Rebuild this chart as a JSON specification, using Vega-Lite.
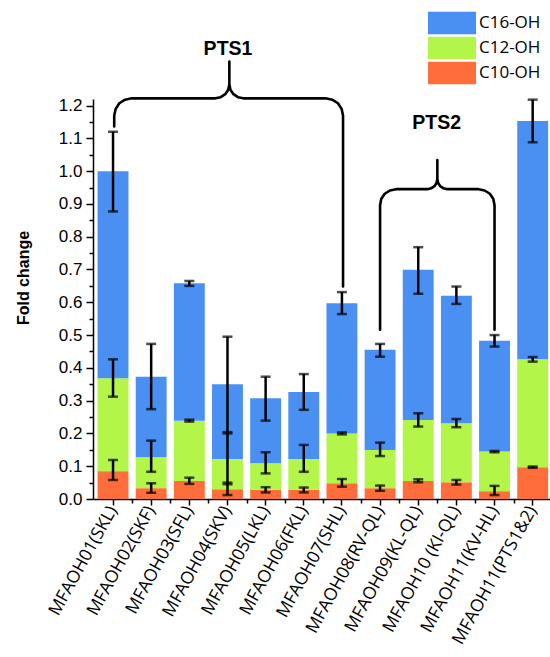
{
  "$schema": "https://vega.github.io/schema/vega-lite/v6.json",
  "autosize": "none",
  "width": 457,
  "height": 400,
  "padding": {"left": 93, "top": 99, "right": 0, "bottom": 158},
  "background": "white",
  "config": {"view": {"stroke": null}},
  "datasets": {
    "bars": [
      {"sample": "MFAOH01(SKL)", "compound": "C10-OH", "value": 0.085, "lo": 0.058, "hi": 0.119},
      {"sample": "MFAOH01(SKL)", "compound": "C12-OH", "value": 0.283, "lo": 0.312, "hi": 0.426},
      {"sample": "MFAOH01(SKL)", "compound": "C16-OH", "value": 0.632, "lo": 0.877, "hi": 1.12},
      {"sample": "MFAOH02(SKF)", "compound": "C10-OH", "value": 0.033, "lo": 0.019, "hi": 0.048},
      {"sample": "MFAOH02(SKF)", "compound": "C12-OH", "value": 0.094, "lo": 0.083, "hi": 0.178},
      {"sample": "MFAOH02(SKF)", "compound": "C16-OH", "value": 0.246, "lo": 0.274, "hi": 0.473},
      {"sample": "MFAOH03(SFL)", "compound": "C10-OH", "value": 0.055, "lo": 0.046, "hi": 0.065},
      {"sample": "MFAOH03(SFL)", "compound": "C12-OH", "value": 0.184, "lo": 0.236, "hi": 0.242},
      {"sample": "MFAOH03(SFL)", "compound": "C16-OH", "value": 0.419, "lo": 0.650, "hi": 0.665},
      {"sample": "MFAOH04(SKV)", "compound": "C10-OH", "value": 0.030, "lo": 0.012, "hi": 0.050},
      {"sample": "MFAOH04(SKV)", "compound": "C12-OH", "value": 0.092, "lo": 0.045, "hi": 0.200},
      {"sample": "MFAOH04(SKV)", "compound": "C16-OH", "value": 0.228, "lo": 0.204, "hi": 0.495},
      {"sample": "MFAOH05(LKL)", "compound": "C10-OH", "value": 0.028, "lo": 0.020, "hi": 0.036},
      {"sample": "MFAOH05(LKL)", "compound": "C12-OH", "value": 0.081, "lo": 0.078, "hi": 0.1425},
      {"sample": "MFAOH05(LKL)", "compound": "C16-OH", "value": 0.198, "lo": 0.239, "hi": 0.373},
      {"sample": "MFAOH06(FKL)", "compound": "C10-OH", "value": 0.028, "lo": 0.020, "hi": 0.035},
      {"sample": "MFAOH06(FKL)", "compound": "C12-OH", "value": 0.094, "lo": 0.083, "hi": 0.165},
      {"sample": "MFAOH06(FKL)", "compound": "C16-OH", "value": 0.204, "lo": 0.272, "hi": 0.381},
      {"sample": "MFAOH07(SHL)", "compound": "C10-OH", "value": 0.048, "lo": 0.0375, "hi": 0.061},
      {"sample": "MFAOH07(SHL)", "compound": "C12-OH", "value": 0.152, "lo": 0.197, "hi": 0.203},
      {"sample": "MFAOH07(SHL)", "compound": "C16-OH", "value": 0.397, "lo": 0.564, "hi": 0.631},
      {"sample": "MFAOH08(RV-QL)", "compound": "C10-OH", "value": 0.033, "lo": 0.025, "hi": 0.041},
      {"sample": "MFAOH08(RV-QL)", "compound": "C12-OH", "value": 0.1165, "lo": 0.131, "hi": 0.172},
      {"sample": "MFAOH08(RV-QL)", "compound": "C16-OH", "value": 0.3055, "lo": 0.434, "hi": 0.473},
      {"sample": "MFAOH09(KL-QL)", "compound": "C10-OH", "value": 0.055, "lo": 0.051, "hi": 0.060},
      {"sample": "MFAOH09(KL-QL)", "compound": "C12-OH", "value": 0.186, "lo": 0.221, "hi": 0.2615},
      {"sample": "MFAOH09(KL-QL)", "compound": "C16-OH", "value": 0.458, "lo": 0.626, "hi": 0.768},
      {"sample": "MFAOH10 (KI-QL)", "compound": "C10-OH", "value": 0.051, "lo": 0.044, "hi": 0.058},
      {"sample": "MFAOH10 (KI-QL)", "compound": "C12-OH", "value": 0.180, "lo": 0.219, "hi": 0.244},
      {"sample": "MFAOH10 (KI-QL)", "compound": "C16-OH", "value": 0.389, "lo": 0.595, "hi": 0.648},
      {"sample": "MFAOH11(KV-HL)", "compound": "C10-OH", "value": 0.024, "lo": 0.012, "hi": 0.040},
      {"sample": "MFAOH11(KV-HL)", "compound": "C12-OH", "value": 0.1205, "lo": 0.1425, "hi": 0.1465},
      {"sample": "MFAOH11(KV-HL)", "compound": "C16-OH", "value": 0.3385, "lo": 0.465, "hi": 0.500},
      {"sample": "MFAOH11(PTS1&2)", "compound": "C10-OH", "value": 0.097, "lo": 0.095, "hi": 0.099},
      {"sample": "MFAOH11(PTS1&2)", "compound": "C12-OH", "value": 0.329, "lo": 0.419, "hi": 0.433},
      {"sample": "MFAOH11(PTS1&2)", "compound": "C16-OH", "value": 0.727, "lo": 1.088, "hi": 1.218}
    ],
    "braces": [
      {"brace": "PTS1", "k": 1, "i": 1.031, "y": 1.136},
      {"brace": "PTS1", "k": 2, "i": 1.031, "y": 1.169},
      {"brace": "PTS1", "k": 3, "i": 1.066, "y": 1.189},
      {"brace": "PTS1", "k": 4, "i": 1.165, "y": 1.207},
      {"brace": "PTS1", "k": 5, "i": 1.315, "y": 1.218},
      {"brace": "PTS1", "k": 6, "i": 1.490, "y": 1.222},
      {"brace": "PTS1", "k": 7, "i": 3.682, "y": 1.222},
      {"brace": "PTS1", "k": 8, "i": 3.823, "y": 1.2255},
      {"brace": "PTS1", "k": 9, "i": 3.941, "y": 1.2347},
      {"brace": "PTS1", "k": 10, "i": 4.020, "y": 1.2484},
      {"brace": "PTS1", "k": 11, "i": 4.049, "y": 1.2649},
      {"brace": "PTS1", "k": 12, "i": 4.049, "y": 1.3345},
      {"brace": "PTS1", "k": 13, "i": 4.049, "y": 1.2649},
      {"brace": "PTS1", "k": 14, "i": 4.077, "y": 1.2484},
      {"brace": "PTS1", "k": 15, "i": 4.156, "y": 1.2347},
      {"brace": "PTS1", "k": 16, "i": 4.274, "y": 1.2255},
      {"brace": "PTS1", "k": 17, "i": 4.415, "y": 1.222},
      {"brace": "PTS1", "k": 18, "i": 6.570, "y": 1.222},
      {"brace": "PTS1", "k": 19, "i": 6.746, "y": 1.218},
      {"brace": "PTS1", "k": 20, "i": 6.895, "y": 1.207},
      {"brace": "PTS1", "k": 21, "i": 6.995, "y": 1.189},
      {"brace": "PTS1", "k": 22, "i": 7.029, "y": 1.169},
      {"brace": "PTS1", "k": 23, "i": 7.029, "y": 0.648},
      {"brace": "PTS2", "k": 1, "i": 8.0, "y": 0.516},
      {"brace": "PTS2", "k": 2, "i": 8.0, "y": 0.896},
      {"brace": "PTS2", "k": 3, "i": 8.030, "y": 0.915},
      {"brace": "PTS2", "k": 4, "i": 8.122, "y": 0.931},
      {"brace": "PTS2", "k": 5, "i": 8.258, "y": 0.941},
      {"brace": "PTS2", "k": 6, "i": 8.418, "y": 0.945},
      {"brace": "PTS2", "k": 7, "i": 9.239, "y": 0.945},
      {"brace": "PTS2", "k": 8, "i": 9.338, "y": 0.9475},
      {"brace": "PTS2", "k": 9, "i": 9.425, "y": 0.954},
      {"brace": "PTS2", "k": 10, "i": 9.480, "y": 0.964},
      {"brace": "PTS2", "k": 11, "i": 9.501, "y": 0.976},
      {"brace": "PTS2", "k": 12, "i": 9.501, "y": 1.034},
      {"brace": "PTS2", "k": 13, "i": 9.501, "y": 0.976},
      {"brace": "PTS2", "k": 14, "i": 9.522, "y": 0.964},
      {"brace": "PTS2", "k": 15, "i": 9.577, "y": 0.954},
      {"brace": "PTS2", "k": 16, "i": 9.663, "y": 0.9475},
      {"brace": "PTS2", "k": 17, "i": 9.763, "y": 0.945},
      {"brace": "PTS2", "k": 18, "i": 10.581, "y": 0.945},
      {"brace": "PTS2", "k": 19, "i": 10.741, "y": 0.941},
      {"brace": "PTS2", "k": 20, "i": 10.877, "y": 0.931},
      {"brace": "PTS2", "k": 21, "i": 10.969, "y": 0.915},
      {"brace": "PTS2", "k": 22, "i": 11.0, "y": 0.896},
      {"brace": "PTS2", "k": 23, "i": 11.0, "y": 0.516}
    ],
    "labels": [
      {"label": "PTS1", "i": 4.014, "y": 1.355},
      {"label": "PTS2", "i": 9.485, "y": 1.128}
    ]
  },
  "layer": [
    {
      "layer": [
        {
          "data": {"name": "bars"},
          "mark": {"type": "bar", "strokeWidth": 0},
          "encoding": {
            "x": {
              "field": "sample", "type": "nominal",
              "scale": {
                "domain": ["MFAOH01(SKL)", "MFAOH02(SKF)", "MFAOH03(SFL)", "MFAOH04(SKV)", "MFAOH05(LKL)", "MFAOH06(FKL)", "MFAOH07(SHL)", "MFAOH08(RV-QL)", "MFAOH09(KL-QL)", "MFAOH10 (KI-QL)", "MFAOH11(KV-HL)", "MFAOH11(PTS1&2)"],
                "paddingInner": 0.19, "paddingOuter": 0.0845, "align": 0.71
              },
              "axis": {
                "title": null, "labelAngle": -61, "labelFont": "Open Sans", "labelFontSize": 17.5,
                "labelColor": "black", "labelOverlap": false, "labelPadding": 2, "labelLimit": 300,
                "tickSize": 6, "tickColor": "black", "tickWidth": 1.5,
                "domainColor": "black", "domainWidth": 1.5, "grid": false
              }
            },
            "y": {
              "field": "value", "type": "quantitative", "stack": "zero", "title": "Fold change",
              "scale": {"domain": [0, 1.22], "nice": false, "zero": true},
              "axis": {
                "values": [0, 0.05, 0.1, 0.15, 0.2, 0.25, 0.3, 0.35, 0.4, 0.45, 0.5, 0.55, 0.6, 0.65, 0.7, 0.75, 0.8, 0.85, 0.9, 0.95, 1.0, 1.05, 1.1, 1.15, 1.2],
                "labelExpr": "round(datum.value*100) % 10 == 0 ? format(datum.value, '.1f') : ''",
                "tickSize": {"condition": {"test": "round(datum.value*100) % 10 == 0", "value": 7}, "value": 4},
                "tickColor": "black", "tickWidth": 1.5, "domainColor": "black", "domainWidth": 1.5,
                "grid": false, "labelFont": "Liberation Sans", "labelFontSize": 17, "labelColor": "black",
                "labelPadding": 4, "labelOverlap": false,
                "titleFont": "Liberation Sans", "titleFontSize": 16, "titleFontWeight": "bold", "titleColor": "black",
                "titleX": -70, "titleY": 178.5, "titleAngle": -90, "titleBaseline": "middle", "titleAlign": "center"
              }
            },
            "color": {
              "field": "compound", "type": "nominal",
              "scale": {"domain": ["C16-OH", "C12-OH", "C10-OH"], "range": ["#4A90F2", "#B3F548", "#FF6D3A"]},
              "legend": {
                "title": null, "orient": "none", "legendX": 335, "legendY": -88.5, "padding": 0,
                "symbolType": "M-1,-0.473H1V0.473H-1Z", "symbolSize": 2304, "symbolStrokeWidth": 0,
                "labelFont": "Open Sans", "labelFontSize": 17, "labelColor": "black", "labelOffset": 3,
                "clipHeight": 25, "rowPadding": 0
              }
            },
            "order": {"field": "compound", "sort": "ascending"}
          }
        },
        {
          "data": {"name": "bars"},
          "mark": {"type": "errorbar", "ticks": true, "size": 10, "thickness": 2.5, "color": "black"},
          "encoding": {
            "x": {"field": "sample", "type": "nominal"},
            "y": {
              "field": "lo", "type": "quantitative", "title": "Fold change",
              "axis": {
                "values": [0, 0.05, 0.1, 0.15, 0.2, 0.25, 0.3, 0.35, 0.4, 0.45, 0.5, 0.55, 0.6, 0.65, 0.7, 0.75, 0.8, 0.85, 0.9, 0.95, 1.0, 1.05, 1.1, 1.15, 1.2],
                "labelExpr": "round(datum.value*100) % 10 == 0 ? format(datum.value, '.1f') : ''",
                "tickSize": {"condition": {"test": "round(datum.value*100) % 10 == 0", "value": 7}, "value": 4},
                "tickColor": "black", "tickWidth": 1.5, "domainColor": "black", "domainWidth": 1.5,
                "grid": false, "labelFont": "Liberation Sans", "labelFontSize": 17, "labelColor": "black",
                "labelPadding": 4, "labelOverlap": false,
                "titleFont": "Liberation Sans", "titleFontSize": 16, "titleFontWeight": "bold", "titleColor": "black",
                "titleX": -70, "titleY": 178.5, "titleAngle": -90, "titleBaseline": "middle", "titleAlign": "center"
              }
            },
            "y2": {"field": "hi"}
          }
        }
      ]
    },
    {
      "layer": [
        {
          "data": {"name": "braces"},
          "mark": {"type": "line", "color": "black", "strokeWidth": 2.6, "strokeJoin": "round", "strokeCap": "round"},
          "encoding": {
            "x": {
              "field": "i", "type": "quantitative",
              "scale": {"domain": [0.475, 12.454], "nice": false, "zero": false},
              "axis": {
                "orient": "bottom", "values": [1.5, 2.5, 3.5, 4.5, 5.5, 6.5, 7.5, 8.5, 9.5, 10.5, 11.5],
                "labels": false, "domain": false, "grid": false, "title": null,
                "tickSize": 4, "tickColor": "black", "tickWidth": 1.5
              }
            },
            "y": {
              "field": "y", "type": "quantitative", "title": "Fold change",
              "axis": {
                "values": [0, 0.05, 0.1, 0.15, 0.2, 0.25, 0.3, 0.35, 0.4, 0.45, 0.5, 0.55, 0.6, 0.65, 0.7, 0.75, 0.8, 0.85, 0.9, 0.95, 1.0, 1.05, 1.1, 1.15, 1.2],
                "labelExpr": "round(datum.value*100) % 10 == 0 ? format(datum.value, '.1f') : ''",
                "tickSize": {"condition": {"test": "round(datum.value*100) % 10 == 0", "value": 7}, "value": 4},
                "tickColor": "black", "tickWidth": 1.5, "domainColor": "black", "domainWidth": 1.5,
                "grid": false, "labelFont": "Liberation Sans", "labelFontSize": 17, "labelColor": "black",
                "labelPadding": 4, "labelOverlap": false,
                "titleFont": "Liberation Sans", "titleFontSize": 16, "titleFontWeight": "bold", "titleColor": "black",
                "titleX": -70, "titleY": 178.5, "titleAngle": -90, "titleBaseline": "middle", "titleAlign": "center"
              }
            },
            "detail": {"field": "brace"},
            "order": {"field": "k"}
          }
        },
        {
          "data": {"name": "labels"},
          "mark": {"type": "text", "font": "Liberation Sans", "fontWeight": "bold", "fontSize": 19.5, "baseline": "alphabetic", "align": "center", "color": "black"},
          "encoding": {
            "x": {"field": "i", "type": "quantitative"},
            "y": {
              "field": "y", "type": "quantitative", "title": "Fold change",
              "axis": {
                "values": [0, 0.05, 0.1, 0.15, 0.2, 0.25, 0.3, 0.35, 0.4, 0.45, 0.5, 0.55, 0.6, 0.65, 0.7, 0.75, 0.8, 0.85, 0.9, 0.95, 1.0, 1.05, 1.1, 1.15, 1.2],
                "labelExpr": "round(datum.value*100) % 10 == 0 ? format(datum.value, '.1f') : ''",
                "tickSize": {"condition": {"test": "round(datum.value*100) % 10 == 0", "value": 7}, "value": 4},
                "tickColor": "black", "tickWidth": 1.5, "domainColor": "black", "domainWidth": 1.5,
                "grid": false, "labelFont": "Liberation Sans", "labelFontSize": 17, "labelColor": "black",
                "labelPadding": 4, "labelOverlap": false,
                "titleFont": "Liberation Sans", "titleFontSize": 16, "titleFontWeight": "bold", "titleColor": "black",
                "titleX": -70, "titleY": 178.5, "titleAngle": -90, "titleBaseline": "middle", "titleAlign": "center"
              }
            },
            "text": {"field": "label"}
          }
        }
      ]
    }
  ],
  "resolve": {"scale": {"x": "independent"}}
}
